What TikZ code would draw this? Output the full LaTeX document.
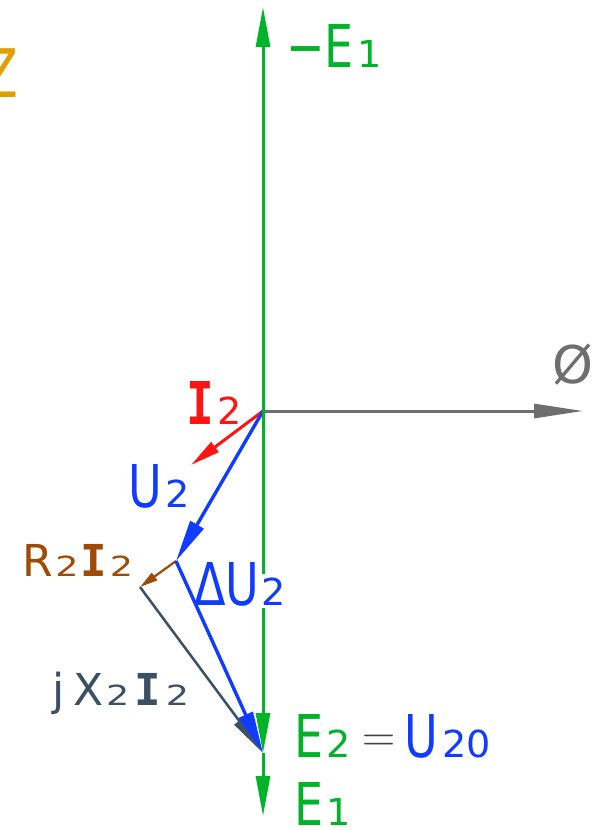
\documentclass[tikz,border=0pt]{standalone}
\usepackage{fontspec}
\usepackage{graphicx}
\usetikzlibrary{arrows.meta}
\newfontfamily\cad{DejaVu Sans}[FakeStretch=0.78]
\newfontfamily\cadw{DejaVu Sans}
\newfontfamily\cadmono{DejaVu Sans Mono}[FakeStretch=0.78]
\newfontfamily\cadmonow{DejaVu Sans Mono}
\definecolor{cgreen}{HTML}{00B42A}
\definecolor{cblue}{HTML}{0F3CFF}
\definecolor{cred}{HTML}{FF1414}
\definecolor{cgray}{HTML}{6E6E6E}
\definecolor{cslate}{HTML}{3C5064}
\definecolor{cbrown}{HTML}{A04B05}
\definecolor{cgold}{HTML}{E0A000}
\definecolor{ceq}{HTML}{404040}
\newcommand{\lo}[1]{\kern0.06em\scalebox{0.83}[0.63]{#1}}
\newcommand{\wlo}[1]{\kern0.03em\kern-3pt\colorbox{white}{\scalebox{0.83}[0.63]{#1}}\kern-3pt}
\newcommand{\II}{{\cadmono\bfseries I}}
\newcommand{\IIw}{{\cadmonow\bfseries I}}
\newcommand{\eqs}{\textcolor{ceq}{\raisebox{5.5pt}{\rmfamily\fontsize{46}{46}\selectfont=}}}

\begin{document}
\begin{tikzpicture}[x=1pt, y=-1pt,
  lab/.style={font=\cad\fontsize{59}{59}\selectfont, inner sep=0pt, anchor=base west},
  slab/.style={lab, font=\cadw\fontsize{44}{44}\selectfont},
  vec/.style={line width=3pt, -{Triangle[length=40pt, width=14pt]}},
  evec/.style={vec, draw=cgreen},
  uvec/.style={vec, line width=3.4pt, draw=cblue, -{Triangle[length=42pt, width=15pt]}},
  ivec/.style={vec, draw=cred, -{Triangle[length=30pt, width=12pt]}},
  rvec/.style={vec, line width=2.2pt, draw=cbrown, -{Triangle[length=18pt, width=9pt]}},
  xvec/.style={vec, line width=2.5pt, draw=cslate, -{Triangle[length=40pt, width=12pt]}},
  fvec/.style={vec, draw=cgray, -{Triangle[length=49pt, width=14pt]}},
]
\useasboundingbox (0,0) rectangle (595,830);
\fill[white] (0,0) rectangle (595,830);

% ------------------------------------------------------------ points
\coordinate (O) at (263,411);
\coordinate (Etop) at (263,7);
\coordinate (Fend) at (583,411);
\coordinate (Iend) at (191,465);
\coordinate (A) at (176,561);
\coordinate (B) at (140,587);
\coordinate (C) at (263,753);
\coordinate (Ebot) at (263,816);

% ------------------------------------------------------------ vectors
\draw[fvec] (O) -- (Fend);
\draw[ivec] (O) -- (Iend);
\draw[uvec] (O) -- (A);
\draw[rvec] (A) -- (B);
\draw[xvec] (B) -- (C);
\draw[uvec] (A) -- (C);
\draw[evec] (O) -- (Etop);
\draw[evec] (O) -- (C);
\draw[evec] (C) -- (Ebot);

% ------------------------------------------------------------ labels
\node[lab, text=cgold, anchor=base east, font=\cad\fontsize{67}{67}\selectfont] (zlab) at (19,97) {Z};
\node[lab, text=cgreen] (mE1) at (286,67) {−E\lo{1}};
\node[lab, text=cgray, font=\cadw\fontsize{52}{52}\selectfont] (phi) at (552,383) {Ø};
\node[lab, text=cred] (lI2) at (186,424) {\II\lo{2}};
\node[lab, text=cblue] (lU2) at (128,507) {U\lo{2}};
\node[slab, text=cbrown] (lR2I2) at (22,576) {R\lo{2}\kern0.05em\IIw\lo{2}};
\node[lab, text=cblue] (ldU2) at (194,605) {ΔU\wlo{2}};
\node[slab, text=cslate] (ljX) at (52,705) {j\kern0.2em X\lo{2}\kern0.12em\IIw\kern0.05em\lo{2}};
\node[lab, text=cgreen] (lE2) at (294,757) {E\lo{2}\kern0.2em\eqs\kern0.15em\textcolor{cblue}{U\lo{20}}};
\node[lab, text=cgreen] (lE1) at (294,825) {E\lo{1}};
\end{tikzpicture}
\end{document}
